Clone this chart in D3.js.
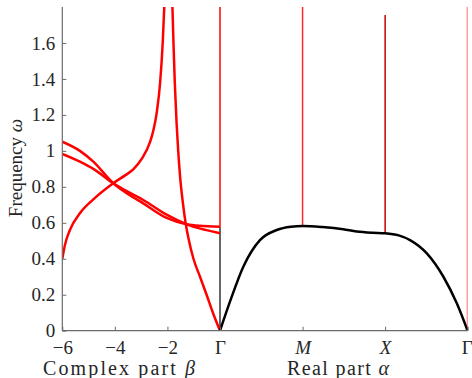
<!DOCTYPE html>
<html>
<head>
<meta charset="utf-8">
<script src="https://cdn.jsdelivr.net/npm/d3@7"></script>
<style>
  body { margin: 0; background: #fff; }
  text { font-family: "Liberation Serif", "DejaVu Serif", serif; fill: #262626; }
</style>
</head>
<body>
<svg id="chart" width="472" height="378"></svg>
<script>
// tick labels
var betaTicks = [-6, -4, -2];
var realTickPos = [0, Math.PI, 2 * Math.PI, 3 * Math.PI];
var realTickLabels = ["Γ", "M", "X", "Γ"];
var freqTicks = [0, 0.2, 0.4, 0.6, 0.8, 1, 1.2, 1.4, 1.6];

// complex part branches [beta, omega]
var branchRise = [[-6, 0.40], [-5.9, 0.477], [-5.71, 0.56], [-5.33, 0.653], [-4.82, 0.73], [-4.06, 0.82],
  [-3.6, 0.865], [-3.30, 0.897], [-2.98, 0.955], [-2.66, 1.05], [-2.54, 1.11], [-2.40, 1.22],
  [-2.28, 1.376], [-2.18, 1.60], [-2.12, 1.80]];
var branchFall = [[-1.81, 1.80], [-1.77, 1.60], [-1.72, 1.38], [-1.65, 1.15], [-1.59, 1.0], [-1.52, 0.86],
  [-1.42, 0.72], [-1.31, 0.60], [-1.18, 0.50], [-1.01, 0.40], [-0.76, 0.30], [-0.51, 0.20],
  [-0.27, 0.10], [0, 0]];
var branchUpper = [[-6, 1.051], [-5.33, 1.0], [-4.82, 0.94], [-4.06, 0.82], [-3.5, 0.76], [-2.92, 0.708],
  [-2.03, 0.627], [-1.27, 0.592], [-0.78, 0.583], [0, 0.578]];
var branchLower = [[-6, 0.983], [-5.33, 0.94], [-4.82, 0.90], [-4.06, 0.82], [-3.5, 0.772], [-2.92, 0.727],
  [-2.03, 0.645], [-1.27, 0.592], [-0.78, 0.569], [-0.39, 0.555], [0, 0.542]];

// real part band [alpha, omega]
var realBand = [[0, 0], [0.4, 0.17], [0.887, 0.356], [1.52, 0.504], [2.16, 0.56], [2.7, 0.578],
  [3.147, 0.582], [3.9, 0.576], [4.69, 0.564], [5.20, 0.552], [5.8, 0.545], [6.28, 0.542],
  [6.8, 0.53], [7.23, 0.504], [7.87, 0.43], [8.50, 0.30], [9.01, 0.152], [9.42, 0]];

// vertical branches at symmetry points
var vlineX = [0, Math.PI, 2 * Math.PI, 3 * Math.PI];
var vlineTop = [1.8, 1.8, 1.756, 1.8];
var vlineBottom = [0.578, 0.582, 0.542, 0];

var svg = d3.select("#chart");
var mLeft = 62.3, mRight = 467.7, mTop = 7, mBottom = 330.7;

var x = d3.scaleLinear().domain([-6, 3 * Math.PI]).range([mLeft, mRight]);
var y = d3.scaleLinear().domain([0, 1.8]).range([mBottom, mTop]);

svg.append("defs").append("clipPath").attr("id", "plotclip")
  .append("rect").attr("x", mLeft).attr("y", mTop).attr("width", mRight - mLeft).attr("height", mBottom - mTop);

var plot = svg.append("g").attr("clip-path", "url(#plotclip)");

var line = d3.line()
  .x(function (d) { return x(d[0]); })
  .y(function (d) { return y(d[1]); })
  .curve(d3.curveMonotoneX);

// vertical lines
var vColors = ["#ff0000", "#ff2a2a", "#c80000", "#ff7070"];
var vWidths = [1.5, 1.5, 1.5, 2];
vlineX.forEach(function (v, i) {
  plot.append("line")
    .attr("x1", x(v)).attr("x2", x(v))
    .attr("y1", y(vlineTop[i])).attr("y2", y(vlineBottom[i]))
    .attr("stroke", vColors[i]).attr("stroke-width", vWidths[i]);
});
plot.append("line")
  .attr("x1", x(0)).attr("x2", x(0))
  .attr("y1", y(vlineBottom[0])).attr("y2", y(0))
  .attr("stroke", "#000").attr("stroke-width", 1.2);

[branchRise, branchFall, branchUpper, branchLower].forEach(function (b) {
  plot.append("path").datum(b)
    .attr("d", line)
    .attr("fill", "none").attr("stroke", "#ff0000").attr("stroke-width", 2.5);
});

plot.append("path").datum(realBand)
  .attr("d", line)
  .attr("fill", "none").attr("stroke", "#000").attr("stroke-width", 2.5);

// axes
var axisColor = "#6a6a6a";
svg.append("line").attr("x1", mLeft).attr("x2", mLeft).attr("y1", mTop).attr("y2", mBottom)
  .attr("stroke", axisColor).attr("stroke-width", 1.2);
svg.append("line").attr("x1", mLeft).attr("x2", mRight).attr("y1", mBottom).attr("y2", mBottom)
  .attr("stroke", axisColor).attr("stroke-width", 1.2);

var yAxis = d3.axisLeft(y).tickValues(freqTicks).tickSize(-4).tickPadding(7)
  .tickFormat(function (d) { return d3.format("~g")(d); });
var gy = svg.append("g").attr("transform", "translate(" + mLeft + ",0)").call(yAxis);
gy.select(".domain").remove();
gy.selectAll(".tick line").attr("stroke", axisColor);
gy.selectAll("text").attr("font-size", 19).attr("font-family", "Liberation Serif").attr("fill", "#262626");

var xTickPos = betaTicks.concat(realTickPos);
var xTickLabels = betaTicks.map(function (d) { return "\u2212" + Math.abs(d); }).concat(realTickLabels);
var xAxis = d3.axisBottom(x).tickValues(xTickPos).tickSize(-4).tickPadding(10)
  .tickFormat(function (d, i) { return xTickLabels[i]; });
var gx = svg.append("g").attr("transform", "translate(0," + mBottom + ")").call(xAxis);
gx.select(".domain").remove();
gx.selectAll(".tick line").attr("stroke", axisColor);
gx.selectAll("text").attr("font-size", 19).attr("font-family", "Liberation Serif").attr("fill", "#262626")
  .attr("font-style", function (d, i) { return (i === 4 || i === 5) ? "italic" : "normal"; })
  .attr("dx", function (d, i) { return i === 6 ? -1 : 0; });

// axis titles
var t1 = svg.append("text").attr("x", 119).attr("y", 375).attr("text-anchor", "middle").attr("font-size", 20)
  .attr("textLength", 152).attr("lengthAdjust", "spacing");
t1.append("tspan").text("Complex part ");
t1.append("tspan").attr("font-style", "italic").text("β");

var t2 = svg.append("text").attr("x", 338).attr("y", 375).attr("text-anchor", "middle").attr("font-size", 20)
  .attr("textLength", 102).attr("lengthAdjust", "spacing");
t2.append("tspan").text("Real part ");
t2.append("tspan").attr("font-style", "italic").text("α");

var t3 = svg.append("text").attr("transform", "translate(22,168) rotate(-90)")
  .attr("text-anchor", "middle").attr("font-size", 19);
t3.append("tspan").text("Frequency ");
t3.append("tspan").attr("font-style", "italic").text("ω");
</script>
</body>
</html>
